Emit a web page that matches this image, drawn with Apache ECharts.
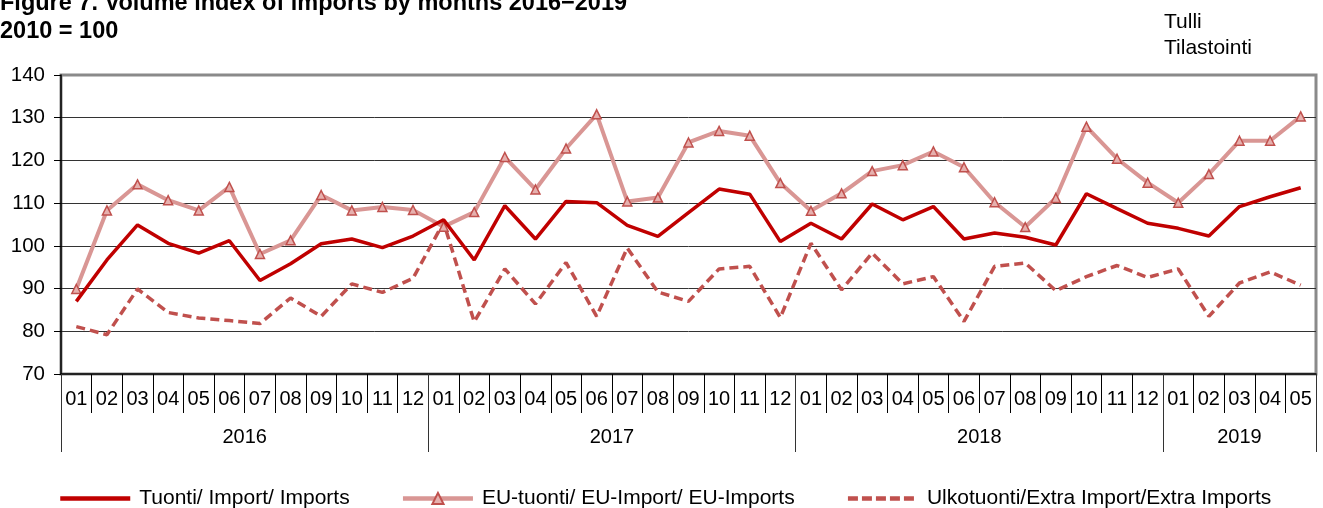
<!DOCTYPE html>
<html>
<head>
<meta charset="utf-8">
<script src="https://cdn.jsdelivr.net/npm/echarts@6/dist/echarts.min.js"></script>
<style>
  html, body { margin: 0; padding: 0; background: #fff; }
  #chart { width: 1323px; height: 508px; }
</style>
</head>
<body>
<div id="chart"></div>
<script>
// ---- data ----
const months = ['01','02','03','04','05','06','07','08','09','10','11','12',
  '01','02','03','04','05','06','07','08','09','10','11','12',
  '01','02','03','04','05','06','07','08','09','10','11','12',
  '01','02','03','04','05'];
const years = ['2016', '2017', '2018', '2019'];
const yearStarts = [0, 12, 24, 36, 41];

const imports = [87.0, 96.7, 104.9, 100.6, 98.3, 101.2, 91.9, 95.8, 100.5, 101.6, 99.6, 102.3,
  106.1, 96.7, 109.4, 101.6, 110.4, 110.1, 104.8, 102.2, 107.8, 113.3, 112.1, 101.0,
  105.3, 101.6, 109.8, 106.1, 109.2, 101.6, 103.0, 102.0, 100.2, 112.2, 108.7, 105.3,
  104.1, 102.3, 109.2, 111.5, 113.6];

const euImports = [89.9, 108.3, 114.4, 110.7, 108.3, 113.8, 98.1, 101.3, 111.9, 108.3, 109.1, 108.4,
  104.5, 107.9, 120.8, 113.2, 122.8, 130.8, 110.4, 111.3, 124.2, 126.9, 125.8, 114.7,
  108.2, 112.3, 117.5, 118.9, 122.1, 118.4, 110.2, 104.4, 111.2, 127.9, 120.4, 114.8,
  110.1, 116.8, 124.6, 124.6, 130.3];

const extraImports = [81.1, 79.2, 89.9, 84.4, 83.1, 82.5, 81.8, 87.8, 83.5, 91.1, 89.1, 92.4,
  105.5, 82.2, 94.6, 86.4, 96.1, 83.5, 99.5, 89.2, 87.0, 94.6, 95.2, 83.2,
  100.6, 89.7, 98.3, 91.1, 92.8, 82.3, 95.2, 96.0, 89.5, 92.8, 95.4, 92.6,
  94.6, 83.5, 91.3, 93.9, 90.8];

const seriesNames = ['Tuonti/ Import/ Imports', 'EU-tuonti/ EU-Import/ EU-Imports', 'Ulkotuonti/Extra Import/Extra Imports'];

// ---- chart ----
const FONT = "'Liberation Sans', Arial, sans-serif";
const yearCenters = years.map((y, i) => (yearStarts[i] + yearStarts[i + 1]) / 2);

const chart = echarts.init(document.getElementById('chart'), null, { renderer: 'canvas' });
chart.setOption({
  animation: false,
  backgroundColor: '#fff',
  textStyle: { fontFamily: FONT, color: '#000' },
  title: [
    {
      text: 'Figure 7. Volume index of imports by months 2016\u22122019\n2010 = 100',
      left: 0, top: -10, padding: 0,
      textStyle: { fontFamily: FONT, fontSize: 23.5, fontWeight: 'bold', lineHeight: 28, color: '#000' }
    },
    {
      text: 'Tulli\nTilastointi',
      left: 1164, top: 9, padding: 0,
      textStyle: { fontFamily: FONT, fontSize: 21, fontWeight: 'normal', lineHeight: 26, color: '#000' }
    }
  ],
  legend: {
    left: 58, top: 488, padding: 0,
    itemWidth: 70, itemHeight: 14, itemGap: 51,
    textStyle: { fontFamily: FONT, fontSize: 21, color: '#000', padding: [0, 0, 0, 4] },
    data: [
      { name: seriesNames[0], itemStyle: { opacity: 0 }, lineStyle: { width: 4.5, color: '#C00000' } },
      { name: seriesNames[1], lineStyle: { width: 4.5, color: '#D99694' } },
      { name: seriesNames[2], itemStyle: { opacity: 0 }, lineStyle: { width: 4.5, color: '#C0504D', type: [10, 4] } }
    ]
  },
  grid: {
    left: 61, right: 7, top: 75, bottom: 134,
    show: true, borderColor: '#8a8a8a', borderWidth: 3, backgroundColor: 'transparent'
  },
  xAxis: [
    {
      type: 'category',
      data: months,
      boundaryGap: true,
      axisLine: { show: true, lineStyle: { color: '#000', width: 1.5 } },
      axisTick: { show: true, interval: 0, length: 39, lineStyle: { color: '#000', width: 1 } },
      axisLabel: { interval: 0, fontFamily: FONT, fontSize: 20, color: '#000', margin: 15 },
      splitLine: { show: false }
    },
    {
      type: 'value',
      position: 'bottom',
      min: 0, max: months.length,
      axisLine: { show: false },
      splitLine: { show: false },
      axisTick: { show: true, length: 78, customValues: yearStarts, lineStyle: { color: '#333', width: 1 } },
      axisLabel: {
        fontFamily: FONT, fontSize: 20, color: '#000', margin: 53,
        customValues: yearCenters,
        formatter: function (v) {
          const i = yearCenters.indexOf(v);
          return i >= 0 ? years[i] : '';
        }
      }
    }
  ],
  yAxis: {
    type: 'value',
    min: 70, max: 140, interval: 10,
    axisLine: { show: true, lineStyle: { color: '#000', width: 1.5 } },
    axisTick: { show: true, length: 7, lineStyle: { color: '#000' } },
    axisLabel: { fontFamily: FONT, fontSize: 20.5, color: '#000', margin: 16 },
    splitLine: { show: true, showMinLine: false, showMaxLine: false, lineStyle: { color: '#333', width: 1 } }
  },
  series: [
    {
      name: seriesNames[0], type: 'line', data: imports, xAxisIndex: 0,
      symbol: 'none', z: 4,
      lineStyle: { color: '#C00000', width: 3.5 },
      itemStyle: { color: '#C00000' }
    },
    {
      name: seriesNames[1], type: 'line', data: euImports, xAxisIndex: 0,
      symbol: 'triangle', symbolSize: 9, showSymbol: true, z: 3,
      lineStyle: { color: '#D99694', width: 4 },
      itemStyle: { color: '#E6B0AE', borderColor: '#C0504D', borderWidth: 1.5 }
    },
    {
      name: seriesNames[2], type: 'line', data: extraImports, xAxisIndex: 0,
      symbol: 'none', z: 2,
      lineStyle: { color: '#C0504D', width: 3.5, type: [9, 5] },
      itemStyle: { color: '#C0504D' }
    }
  ]
});
</script>
</body>
</html>
